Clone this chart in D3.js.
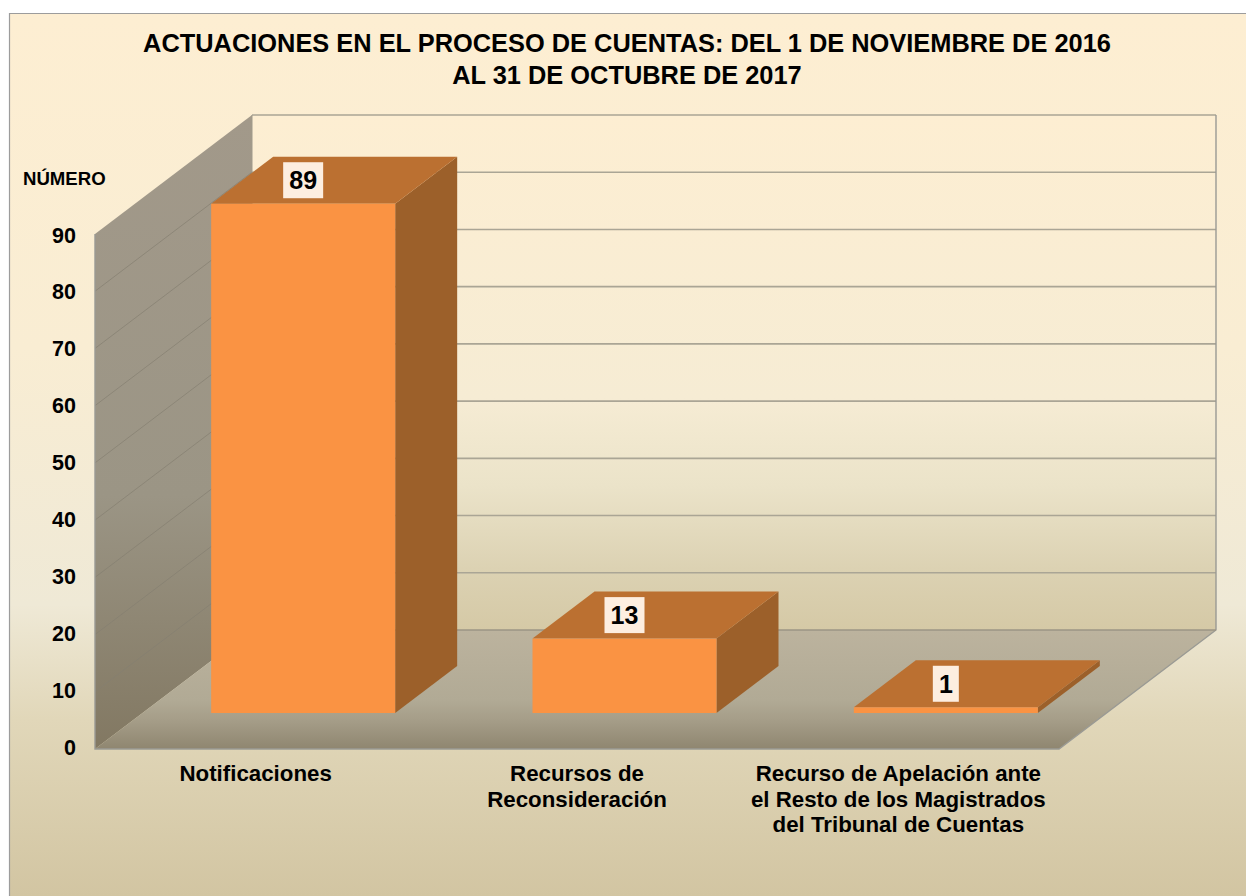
<!DOCTYPE html>
<html><head><meta charset="utf-8">
<script src="https://cdnjs.cloudflare.com/ajax/libs/d3/7.8.5/d3.min.js"></script>
<style>html,body{margin:0;padding:0;background:#fff;overflow:hidden}svg{display:block}text{font-family:"Liberation Sans",Arial,sans-serif;font-weight:700;fill:#000}</style>
</head><body><script>
const titleLines = ["ACTUACIONES EN EL PROCESO DE CUENTAS: DEL 1 DE NOVIEMBRE DE 2016","AL 31 DE OCTUBRE DE 2017"];
const categories = ["Notificaciones","Recursos de Reconsideración","Recurso de Apelación ante el Resto de los Magistrados del Tribunal de Cuentas"];
const categoryLines = [["Notificaciones"],["Recursos de","Reconsideración"],["Recurso de Apelación ante","el Resto de los Magistrados","del Tribunal de Cuentas"]];
const values = [89,13,1];
const yTicks = [0,10,20,30,40,50,60,70,80,90];
const yAxisTitle = "NÚMERO";

const W=1246,H=896;
const svg=d3.select("body").append("svg").attr("width",W).attr("height",H);
const defs=svg.append("defs");
function grad(id,stops,y1,y2){
  const g=defs.append("linearGradient").attr("id",id).attr("gradientUnits","userSpaceOnUse")
    .attr("x1",0).attr("x2",0).attr("y1",y1).attr("y2",y2);
  stops.forEach(s=>g.append("stop").attr("offset",s[0]).attr("stop-color",s[1]));
}
grad("bg",[[0,"#fdeed2"],[.38,"#f9edd3"],[.67,"#efe9d6"],[.8,"#e1d7b9"],[1,"#d2c5a2"]],13,896);
grad("back",[[0,"#fdeed2"],[.55,"#f6ecd4"],[.72,"#ebe3c9"],[.88,"#dcd2b3"],[1,"#d5c9a6"]],115,630);
grad("wall",[[0,"#a2998a"],[.6,"#9b9585"],[1,"#827862"]],115,749);
grad("floor",[[0,"#bcb39e"],[.59,"#b1aa95"],[.76,"#a59d88"],[1,"#8f8670"]],630,749);

svg.append("path").attr("d",d3.line()([[9.5,H+2],[9.5,13.5],[W+2,13.5],[W+2,H+2]])+"Z")
  .attr("fill","url(#bg)").attr("stroke","#9c9c9c").attr("stroke-width",1.2);

const y=d3.scaleLinear().domain([0,90]).range([749,234]);
const yLabel=d3.scaleLinear().domain([0,90]).range([755,242.5]);
const x=d3.scaleBand().domain(categories).range([95,1059]);
const depth={dx:157,dy:-119};
const barW=184, gapF=36/119, barF=47/119;
const line=d3.line();

// back wall
svg.append("path").attr("d",line([[95+depth.dx,y(90)+depth.dy],[95+depth.dx+964,y(90)+depth.dy],[95+depth.dx+964,y(0)+depth.dy],[95+depth.dx,y(0)+depth.dy]])+"Z").attr("fill","url(#back)");
// left wall
svg.append("path").attr("d",line([[95,y(90)],[95+depth.dx,y(90)+depth.dy],[95+depth.dx,y(0)+depth.dy],[95,y(0)]])+"Z").attr("fill","url(#wall)");
// floor
svg.append("path").attr("d",line([[95,y(0)],[1059,y(0)],[1059+depth.dx,y(0)+depth.dy],[95+depth.dx,y(0)+depth.dy]])+"Z").attr("fill","url(#floor)");
// grid: wall part and back part
const grid=svg.append("g").selectAll("g").data(yTicks.slice(1)).join("g").attr("fill","none");
grid.append("path").attr("d",d=>line([[95,y(d)],[95+depth.dx,y(d)+depth.dy]]))
  .attr("stroke","#857f70").attr("stroke-opacity",d=>d===90?0:.7).attr("stroke-width",1);
grid.append("path").attr("d",d=>line([[95+depth.dx,y(d)+depth.dy],[95+depth.dx+964,y(d)+depth.dy]]))
  .attr("stroke","#aaa595").attr("stroke-width",1.6);
// outline
svg.append("path").attr("d",line([[95,y(90)],[95,y(0)],[1059,y(0)],[1059+depth.dx,y(0)+depth.dy],[1059+depth.dx,y(90)+depth.dy]])).attr("fill","none").attr("stroke","#9a9a94").attr("stroke-width",1.4);
svg.append("path").attr("d",line([[95+depth.dx,y(0)+depth.dy],[1059+depth.dx,y(0)+depth.dy]])).attr("fill","none").attr("stroke","#9b9484").attr("stroke-width",1.4);
svg.append("path").attr("d",line([[95+depth.dx,y(90)+depth.dy],[95+depth.dx,y(0)+depth.dy]])).attr("fill","none").attr("stroke","#a09a8b").attr("stroke-width",1);

// bars
const bars=svg.append("g").selectAll("g").data(values).join("g");
const bx=(d,i)=>x(categories[i])+x.bandwidth()/2+depth.dx*gapF-barW/2;
const by0=y(0)+depth.dy*gapF;
const ddx=depth.dx*barF, ddy=depth.dy*barF;
const h=d=>y(0)-y(d);
bars.append("path").attr("fill","#9c602a").attr("d",(d,i)=>{const l=bx(d,i)+barW;return line([[l,by0-h(d)],[l+ddx,by0-h(d)+ddy],[l+ddx,by0+ddy],[l,by0]])+"Z";});
bars.append("path").attr("fill","#bb7031").attr("d",(d,i)=>{const l=bx(d,i);return line([[l,by0-h(d)],[l+barW,by0-h(d)],[l+barW+ddx,by0-h(d)+ddy],[l+ddx,by0-h(d)+ddy]])+"Z";});
bars.append("rect").attr("fill","#fa9343").attr("x",(d,i)=>bx(d,i)).attr("y",d=>by0-h(d)).attr("width",barW).attr("height",d=>h(d));
// value labels
const lab=svg.append("g").selectAll("g").data(values).join("g")
  .attr("transform",(d,i)=>`translate(${bx(d,i)+barW/2},${by0-h(d)+ddy/2})`);
lab.append("rect").attr("x",d=>d>=10?-20:-13).attr("y",-18).attr("width",d=>d>=10?40:26).attr("height",36).attr("fill","#fdeee0");
lab.append("text").attr("text-anchor","middle").attr("y",9).attr("font-size",25).text(d=>d);

// y axis text
svg.append("g").selectAll("text").data(yTicks).join("text")
  .attr("x",76).attr("y",d=>yLabel(d)).attr("text-anchor","end").attr("font-size",21.5).text(d=>d);
svg.append("text").attr("x",23).attr("y",185).attr("font-size",18.6).text(yAxisTitle);
// title
svg.append("g").selectAll("text").data(titleLines).join("text")
  .attr("x",627).attr("y",(d,i)=>52+i*32).attr("text-anchor","middle").attr("font-size",25.4).text(d=>d);
// category labels
svg.append("g").selectAll("text").data(categories).join("text")
  .attr("text-anchor","middle").attr("font-size",22.3)
  .each(function(c,i){
    const t=d3.select(this);
    categoryLines[i].forEach((s,j)=>t.append("tspan").attr("x",x(c)+x.bandwidth()/2).attr("y",781+j*25.7).text(s));
  });
</script></body></html>
